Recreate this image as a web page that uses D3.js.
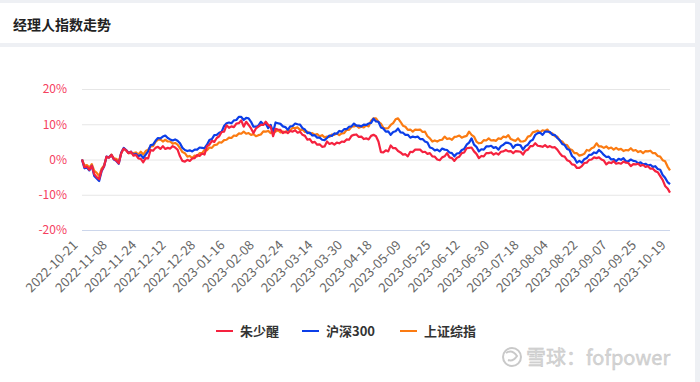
<!DOCTYPE html>
<html><head><meta charset="utf-8">
<script src="https://cdn.jsdelivr.net/npm/d3@7/dist/d3.min.js"></script>
<style>
html,body{margin:0;padding:0;background:#eef0f4;overflow:hidden;}
svg{display:block;}
</style></head><body>
<svg id="chart" width="700" height="382"></svg>
<script>
// ---------------- data ----------------
const startDate = "2022-10-21";
const endDate = "2023-10-19";
const closedDays = ["2023-01-02","2023-01-23","2023-01-24","2023-01-25","2023-01-26","2023-01-27",
  "2023-04-05","2023-05-01","2023-05-02","2023-05-03","2023-06-22","2023-06-23","2023-07-27",
  "2023-09-29","2023-10-02","2023-10-03","2023-10-04","2023-10-05","2023-10-06"];
const tickLabels = ["2022-10-21","2022-11-08","2022-11-24","2022-12-12","2022-12-28","2023-01-16",
  "2023-02-08","2023-02-24","2023-03-14","2023-03-30","2023-04-18","2023-05-09","2023-05-25",
  "2023-06-12","2023-06-30","2023-07-18","2023-08-04","2023-08-22","2023-09-07","2023-09-25","2023-10-19"];
const seriesNames = ["朱少醒","沪深300","上证综指"];
const yTicks = [-20,-10,0,10,20];

const manager = [
 0,-2.2,-2.0,-2.9,-1.8,-4.2,-5.0,-5.6,-3.1,-1.9,
 0.8,0.5,1.3,0.1,-0.3,-1.1,1.8,3.1,2.6,1.8,
 2.2,1.1,1.3,0.3,0.2,-0.8,0.4,0.3,2.7,2.5,
 3.3,3.6,3.0,3.8,3.0,3.3,3.1,3.8,3.4,2.8,
 0.9,-0.4,-0.6,-0.1,-0.4,0.3,0.4,1.3,1.0,1.7,
 1.4,3.7,4.2,5.3,5.0,6.1,6.6,7.8,7.9,9.7,
 9.0,9.4,9.2,10.2,10.3,11.1,9.3,10.7,9.8,8.8,
 7.5,8.8,9.3,9.8,9.8,10.7,9.8,9.3,6.6,8.7,
 8.5,8.4,7.5,7.9,7.5,8.1,7.9,8.3,7.6,7.9,
 7.0,6.7,5.6,5.8,4.8,5.0,4.2,4.3,3.6,3.7,
 5.1,4.4,4.7,4.2,4.8,4.6,5.1,5.0,5.7,5.6,
 6.7,7.0,7.1,6.4,6.5,5.8,6.0,5.7,6.7,7.0,
 6.6,5.1,2.1,2.0,2.6,2.3,4.0,3.2,3.2,2.4,
 2.0,1.4,1.5,0.9,2.2,2.1,2.8,2.8,2.8,2.1,
 2.2,1.6,1.8,0.9,0.8,0.0,-0.2,0.6,0.9,1.8,
 0.6,0.4,-0.4,0.5,0.8,1.8,2.0,3.2,3.3,3.4,
 2.3,1.6,0.4,1.0,0.9,1.8,1.8,2.0,1.4,1.8,
 1.4,2.2,2.3,2.7,2.3,2.4,1.8,2.4,2.3,2.2,
 1.4,2.5,2.8,3.8,3.8,4.6,3.9,3.8,3.6,4.1,
 3.5,3.8,3.4,3.5,2.8,1.8,1.0,0.8,-0.2,-0.5,
 -1.4,-1.5,-2.4,-2.4,-1.9,-1.0,-0.9,-0.1,0.0,0.6,
 0.4,0.6,0.0,-0.3,-1.4,-0.8,-1.0,-0.5,-1.2,-1.0,
 -1.2,-0.6,-0.9,-1.0,-1.9,-1.3,-1.4,-1.2,-1.8,-1.5,
 -2.1,-1.9,-2.6,-2.6,-3.3,-3.6,-4.7,-5.8,-7.5,-8.2,-9.4
];
const hs300 = [
 0,-2.5,-2.3,-3.1,-1.8,-4.7,-5.4,-6.1,-3.3,-2.0,
 0.8,0.6,1.3,0.0,-0.4,-1.2,1.9,3.3,2.7,1.9,
 2.2,1.3,1.6,0.9,1.3,0.4,1.4,2.3,4.1,4.2,
 5.3,6.1,6.0,6.5,6.8,6.1,5.7,5.4,5.7,5.3,
 4.6,3.3,2.7,2.4,2.6,2.3,2.8,2.8,3.4,3.3,
 3.2,4.2,5.5,5.8,6.9,7.0,7.6,7.9,9.5,10.3,
 10.5,10.3,11.1,11.2,12.1,12.1,11.2,11.8,11.7,10.7,
 9.3,9.3,9.6,10.7,10.0,10.2,8.9,9.8,7.8,10.5,
 10.3,10.1,9.4,9.2,8.4,9.4,9.5,10.2,10.0,9.9,
 8.9,8.5,7.5,7.6,6.8,6.9,6.2,6.2,5.6,5.5,
 6.1,6.8,6.7,7.4,7.3,8.1,7.9,8.6,8.6,9.3,
 9.4,10.2,9.6,9.6,9.4,9.9,9.8,10.2,10.4,11.6,
 10.8,10.7,9.1,8.8,7.9,8.0,7.0,7.8,8.0,8.8,
 7.7,7.6,7.0,7.0,6.2,6.5,6.3,6.5,5.8,5.8,
 5.1,4.8,3.4,3.2,2.6,2.8,2.3,3.1,2.8,2.7,
 2.0,1.8,0.9,1.7,1.8,2.7,3.0,4.2,4.8,6.0,
 4.2,3.6,2.3,2.9,2.8,3.7,3.7,3.9,3.3,3.5,
 2.8,3.8,4.2,4.8,4.7,4.4,3.3,4.1,4.2,4.0,
 2.8,3.8,4.2,5.2,5.6,7.0,7.5,7.6,7.0,7.9,
 7.9,7.8,7.0,7.0,6.1,5.5,4.4,4.1,3.0,2.7,
 1.0,0.4,-0.9,-0.4,-0.9,0.1,0.4,1.3,1.4,2.0,
 1.8,2.7,2.1,1.3,0.7,0.8,0.0,0.1,-0.5,0.2,
 -0.1,0.4,-0.5,-0.5,0.0,-0.4,-0.5,-1.1,-0.8,-1.4,
 -1.2,-1.7,-1.5,-2.1,-1.9,-2.7,-2.9,-4.4,-5.2,-6.4,-7.0
];
const sse = [
 0,-1.7,-1.6,-2.3,-1.3,-3.2,-3.8,-4.7,-2.6,-1.7,
 0.7,0.6,1.4,0.3,0.2,-0.7,1.8,3.1,2.6,1.8,
 1.8,1.8,2.0,1.4,2.2,1.4,2.4,2.8,3.7,3.8,
 5.0,5.6,5.7,5.1,5.6,5.1,5.1,4.5,4.7,4.2,
 3.2,2.1,1.8,0.8,1.0,0.4,1.1,0.9,1.8,1.8,
 2.7,2.6,3.4,3.3,4.1,4.2,4.9,4.8,5.5,5.6,
 6.2,6.1,6.8,6.7,7.4,7.3,7.9,7.3,7.5,7.0,
 7.2,6.6,6.9,7.1,8.0,7.9,8.1,7.5,7.8,7.9,
 8.3,7.7,7.9,7.7,8.3,8.3,9.0,8.9,9.1,8.4,
 8.5,7.8,7.9,7.3,7.5,7.0,7.2,6.6,6.9,6.3,
 6.5,6.4,7.1,7.0,7.4,6.9,7.4,7.5,8.4,8.4,
 9.3,9.4,9.6,9.0,9.3,9.1,9.7,9.4,11.0,11.7,
 11.7,10.7,10.2,9.0,8.8,8.9,9.8,10.3,11.4,11.7,
 10.7,9.6,9.3,8.4,8.5,7.9,8.5,8.4,8.5,7.8,
 7.9,6.6,6.0,5.1,5.4,5.1,5.5,5.6,6.5,5.8,
 6.0,5.6,6.4,6.5,6.8,6.2,6.5,6.7,7.9,7.0,
 6.5,5.1,4.6,4.7,5.5,5.4,6.0,5.4,5.5,5.3,
 6.0,5.8,6.5,6.3,6.9,5.8,5.5,5.3,6.0,5.1,
 5.1,5.4,6.5,6.7,7.7,7.9,8.2,7.7,8.3,8.1,
 8.5,7.5,7.4,6.6,6.5,5.4,5.1,4.2,4.1,3.0,
 2.7,1.8,1.8,1.1,1.3,1.6,2.7,2.5,3.2,3.5,
 4.6,3.7,3.7,3.3,3.7,3.1,3.4,2.8,3.3,2.8,
 3.0,2.4,2.7,2.6,3.2,2.5,2.7,2.1,2.4,1.8,
 2.4,2.3,2.5,1.8,1.8,1.0,0.8,-0.2,-0.5,-2.0,-3.1
];

// ---------------- chart ----------------
const colors = ["#f5223f","#0c3ee8","#fb7b12"];
const fmt = d3.timeFormat("%Y-%m-%d");
const parse = d3.timeParse("%Y-%m-%d");
const dates = d3.timeDay.range(parse(startDate), d3.timeDay.offset(parse(endDate), 1))
  .filter(d => d.getDay() !== 0 && d.getDay() !== 6)
  .map(fmt)
  .filter(s => !closedDays.includes(s));

const svg = d3.select("#chart");
const FONT = "'Noto Sans CJK SC','Noto Sans',sans-serif";
// cards
svg.append("rect").attr("x",0).attr("y",3).attr("width",695).attr("height",40).attr("fill","#fff");
svg.append("rect").attr("x",0).attr("y",47).attr("width",695).attr("height",335).attr("fill","#fff");
svg.append("text").attr("x",13).attr("y",30)
  .attr("font-family",FONT)
  .attr("font-size",14).attr("font-weight",600).attr("fill","#222")
  .text("经理人指数走势");

const x = d3.scalePoint().domain(dates).range([82, 670]);
const y = d3.scaleLinear().domain([-20, 20]).range([230, 89]);

// y axis with grid
const yAxis = svg.append("g").attr("transform","translate(82,0)")
  .call(d3.axisLeft(y).tickValues(yTicks).tickSize(-588).tickFormat(d => d + "%").tickPadding(15));
yAxis.select(".domain").remove();
yAxis.selectAll(".tick line").attr("stroke", d => d === -20 ? "#ccd6eb" : "#e6e6e6");
yAxis.selectAll(".tick text").attr("fill","#f5415f").attr("font-size",12)
  .attr("font-family",FONT);

// x axis
const xAxis = svg.append("g").attr("transform","translate(0,230)")
  .call(d3.axisBottom(x).tickValues(tickLabels).tickSize(0).tickPadding(0));
xAxis.select(".domain").remove();
xAxis.selectAll(".tick text")
  .attr("fill","#666").attr("font-size",13)
  .attr("font-family",FONT)
  .attr("text-anchor","end").attr("dy",0)
  .attr("transform","translate(-4,16) rotate(-45)");

// lines
const allSeries = [manager, hs300, sse];
const line = d3.line().x((d,i) => x(dates[i])).y(d => y(d));
[2,1,0].forEach(k => {
  svg.append("path").datum(allSeries[k]).attr("d", line)
    .attr("fill","none").attr("stroke",colors[k]).attr("stroke-width",2.2)
    .attr("stroke-linejoin","round");
});

// legend
const legX = [216, 302, 400];
const leg = svg.append("g");
seriesNames.forEach((n,k) => {
  leg.append("line").attr("x1",legX[k]).attr("x2",legX[k]+17).attr("y1",331).attr("y2",331)
    .attr("stroke",colors[k]).attr("stroke-width",2);
  leg.append("text").attr("x",legX[k]+24).attr("y",336)
    .attr("font-family",FONT)
    .attr("font-size",13).attr("font-weight",700).attr("fill","#333").text(n);
});

// watermark
const wm = svg.append("g").attr("opacity",0.9);
wm.append("circle").attr("cx",512).attr("cy",357).attr("r",9).attr("fill","none")
  .attr("stroke","#c4c4c4").attr("stroke-width",2);
wm.append("path").attr("d","M506,353 Q512,349 517,356 Q513,362 508,360")
  .attr("fill","none").attr("stroke","#c4c4c4").attr("stroke-width",2);
wm.append("text").attr("x",526).attr("y",365)
  .attr("font-family",FONT)
  .attr("font-size",20).attr("fill","#d2d2d2").attr("stroke","#bdbdbd").attr("stroke-width",0.4)
  .text("雪球：fofpower");
</script>
</body></html>
